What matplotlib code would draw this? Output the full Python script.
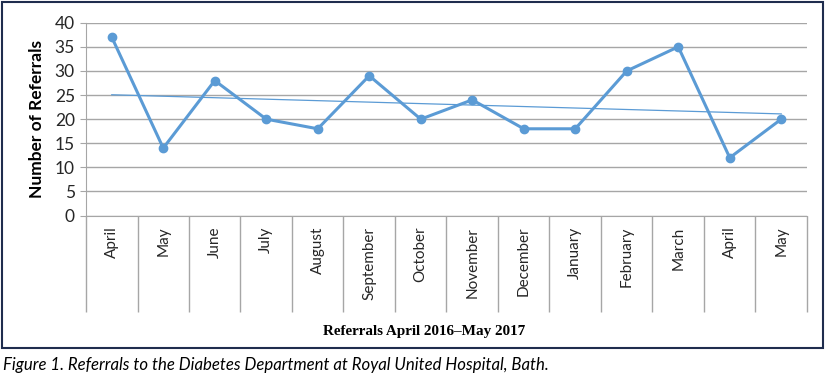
import matplotlib.pyplot as plt
import numpy as np
from matplotlib.patches import Rectangle

months = ["April", "May", "June", "July", "August", "September", "October",
          "November", "December", "January", "February", "March", "April", "May"]
referrals = [37, 14, 28, 20, 18, 29, 20, 24, 18, 18, 30, 35, 12, 20]
y_ticks = [0, 5, 10, 15, 20, 25, 30, 35, 40]

blue = '#5b9bd5'
grid_gray = '#a6a6a6'

fig = plt.figure(figsize=(8.27, 3.77), dpi=100)
ax = fig.add_axes([86 / 827, 1 - 215.6 / 377, 721 / 827, 192.9 / 377])

x = np.arange(len(months))
ax.plot(x, referrals, color=blue, linewidth=2.2, marker='o', markersize=6,
        zorder=3)

# linear trend line
k, b = np.polyfit(x, referrals, 1)
ax.plot(x, k * x + b, color=blue, linewidth=0.9, zorder=2)

ax.set_xlim(-0.5, len(months) - 0.5)
ax.set_ylim(0, 40)
ax.set_yticks(y_ticks)
ax.tick_params(axis='y', length=4, color=grid_gray, labelsize=12.5,
               pad=4, labelcolor='#262626')
ax.grid(axis='y', color=grid_gray, linewidth=1)
ax.set_axisbelow(True)

# category dividers drawn as long major ticks, labels on minor ticks
ax.set_xticks(np.arange(-0.5, len(months), 1))
ax.set_xticklabels([])
ax.tick_params(axis='x', which='major', length=69, width=1, color=grid_gray)
ax.set_xticks(x, minor=True)
ax.set_xticklabels(months, minor=True, rotation=90, fontsize=11,
                   color='#262626', family='Lato')
ax.tick_params(axis='x', which='minor', length=0, pad=8)

for s in ['top', 'right']:
    ax.spines[s].set_visible(False)
ax.spines['left'].set_color(grid_gray)
ax.spines['bottom'].set_color(grid_gray)

for lab in ax.get_yticklabels():
    lab.set_family('Lato')

ax.set_ylabel('Number of Referrals', fontsize=12.5, fontweight='bold',
              family='Lato', labelpad=7)

fig.text(424 / 827, 1 - 332 / 377, 'Referrals April 2016\u2013May 2017',
         ha='center', va='center', fontsize=10.9, fontweight='bold',
         family='Liberation Serif')

fig.text(3 / 827, 1 - 365 / 377,
         'Figure 1. Referrals to the Diabetes Department at Royal United Hospital, Bath.',
         ha='left', va='center', fontsize=12.1, style='italic', family='Lato')

fig.patches.append(Rectangle((2 / 827, 1 - 348 / 377), 821 / 827, 346 / 377,
                             transform=fig.transFigure, fill=False,
                             edgecolor='#1f2d4e', linewidth=1.5))

fig.savefig('out.png', dpi=100)
